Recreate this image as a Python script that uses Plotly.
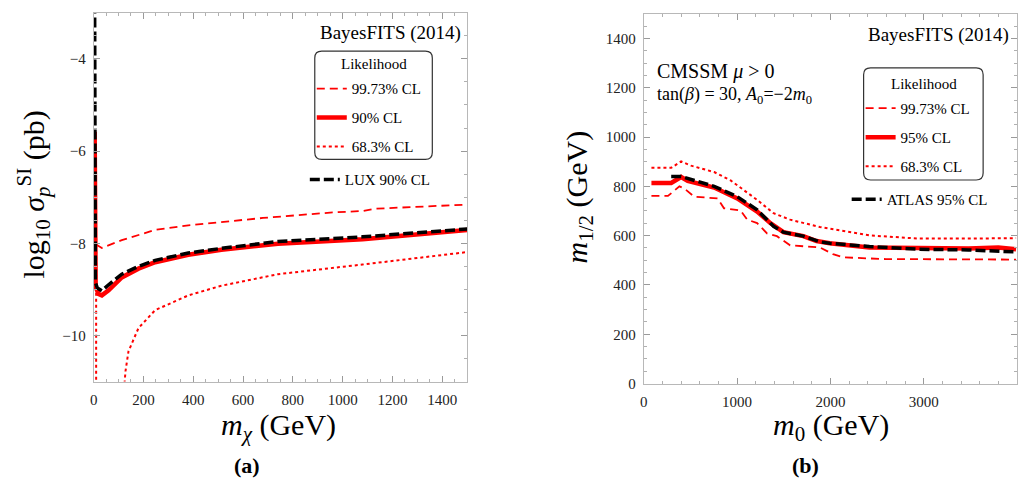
import plotly.graph_objects as go

W, H = 1018, 486
def X(px): return min(px, W - 1) / W
def Y(py): return 1 - py / H

SERIF = "Liberation Serif"
RED = "#ff0000"

# ---------------- panel (a) data ----------------
lux_m = [4, 5, 7, 15, 33, 60, 113, 180, 247, 380, 513, 740, 1080, 1500]
lux_v = [-2.8, -7.5, -8.85, -8.97, -9.03, -8.9, -8.67, -8.5, -8.37, -8.21, -8.11, -7.96, -7.86, -7.69]

a90_m = [4, 5, 8, 20, 33, 60, 113, 180, 247, 380, 513, 740, 1080, 1500]
a90_v = [-5.58, -7.5, -8.95, -9.1, -9.13, -9.02, -8.74, -8.55, -8.41, -8.25, -8.14, -8.01, -7.91, -7.71]

a9973_m = [8, 33, 113, 247, 380, 513, 680, 960, 1080, 1130, 1500]
a9973_v = [-8.02, -8.1, -7.93, -7.71, -7.61, -7.54, -7.45, -7.33, -7.30, -7.25, -7.16]

a683_m = [10, 10, None, 120, 128, 140, 180, 247, 380, 513, 740, 1080, 1500]
a683_v = [-7.9, -11.3, None, -11.3, -10.77, -10.34, -9.84, -9.45, -9.13, -8.92, -8.67, -8.46, -8.19]

# ---------------- panel (b) data ----------------
b95_m = [82, 294, 400, 471, 754, 1002, 1215, 1356, 1497, 1710, 1852, 1993, 2418, 2949, 3480, 3800, 3990]
b95_v = [814, 814, 838, 822, 795, 751, 698, 651, 614, 598, 578, 569, 552, 548, 548, 552, 545]

atlas_m = [294, 400, 754, 1002, 1215, 1391, 1497, 1710, 1887, 1993, 2418, 2949, 3480, 3990]
atlas_v = [840, 840, 800, 758, 705, 638, 614, 598, 575, 569, 556, 545, 542, 534]

b9973_m = [82, 259, 382, 435, 541, 790, 860, 1037, 1109, 1215, 1321, 1427, 1568, 1887, 2028, 2135, 2595, 3990]
b9973_v = [761, 761, 800, 791, 758, 751, 711, 702, 665, 651, 609, 598, 561, 552, 525, 512, 505, 503]

b683_m = [82, 294, 400, 506, 754, 931, 1215, 1391, 1568, 1887, 2418, 2949, 3480, 3990]
b683_v = [875, 875, 901, 884, 858, 824, 745, 691, 665, 635, 601, 588, 588, 590]

fig = go.Figure()

def line_trace(x, y, xa, ya, name, color, width, dash, legend, group):
    return go.Scatter(x=x, y=y, xaxis=xa, yaxis=ya, mode="lines", name=name,
                      line=dict(color=color, width=width, dash=dash),
                      legend=legend, legendgroup=group, connectgaps=False,
                      hoverinfo="skip")

DASH = "8px,5px"
DOT = "3px,3px"
BDASH = "10px,4px"

fig.add_trace(line_trace(a9973_m, a9973_v, "x", "y", "99.73% CL", RED, 1.8, DASH, "legend", "a1"))
fig.add_trace(line_trace(a90_m, a90_v, "x", "y", "90% CL", RED, 4.5, "solid", "legend", "a2"))
fig.add_trace(line_trace(a683_m, a683_v, "x", "y", "68.3% CL", RED, 2, DOT, "legend", "a3"))
fig.add_trace(line_trace(lux_m, lux_v, "x", "y", "LUX 90% CL", "black", 3.5, BDASH, "legend2", "a4"))

fig.add_trace(line_trace(b9973_m, b9973_v, "x2", "y2", "99.73% CL", RED, 1.8, DASH, "legend3", "b1"))
fig.add_trace(line_trace(b95_m, b95_v, "x2", "y2", "95% CL", RED, 4.5, "solid", "legend3", "b2"))
fig.add_trace(line_trace(b683_m, b683_v, "x2", "y2", "68.3% CL", RED, 2, DOT, "legend3", "b3"))
fig.add_trace(line_trace(atlas_m, atlas_v, "x2", "y2", "ATLAS 95% CL", "black", 3.5, BDASH, "legend4", "b4"))

axis_common = dict(showgrid=False, zeroline=False, showline=True, linecolor="#b8b8b8",
                   linewidth=1, mirror="ticks", ticks="inside", ticklen=6,
                   tickcolor="#9a9a9a", tickwidth=1,
                   tickfont=dict(family=SERIF, size=15, color="#222"),
                   ticklabelstandoff=4)

def minor(d):
    return dict(dtick=d, ticks="inside", ticklen=3, tickcolor="#b0b0b0", showgrid=False)

fig.update_layout(
    width=W, height=H, autosize=False, margin=dict(l=0, r=0, t=0, b=0),
    paper_bgcolor="white", plot_bgcolor="white",
    xaxis=dict(domain=[X(90), X(465)], range=[0, 1500], dtick=200, tick0=0,
               minor=minor(50), anchor="y", **axis_common),
    yaxis=dict(domain=[Y(388), Y(13)], range=[-11, -3], dtick=2, tick0=0,
               minor=minor(0.5), anchor="x", **axis_common),
    xaxis2=dict(domain=[X(642.3), X(1019)], range=[0, 4000], dtick=1000, tick0=0,
                minor=minor(200), anchor="y2", **axis_common),
    yaxis2=dict(domain=[Y(390), Y(14)], range=[0, 1500], dtick=200, tick0=0,
                minor=minor(50), anchor="x2", **axis_common),
    showlegend=True,
)

leg_font = dict(family=SERIF, size=15, color="black")
def legend_box(xpx, ypx):
    return dict(x=X(xpx), y=Y(ypx), xanchor="left", yanchor="top",
                bgcolor="rgba(0,0,0,0)", borderwidth=0, font=leg_font,
                traceorder="grouped", tracegroupgap=6.5, itemwidth=30)

fig.update_layout(
    legend=legend_box(309, 73.5),
    legend2=legend_box(302, 166),
    legend3=legend_box(860, 93.5),
    legend4=legend_box(846, 186),
)

# rounded frames of the likelihood legends
def rounded(x0, y0, x1, y1, r=7):
    pts = [
        f"M{X(x0 + r)},{Y(y0)}", f"L{X(x1 - r)},{Y(y0)}", f"Q{X(x1)},{Y(y0)} {X(x1)},{Y(y0 + r)}",
        f"L{X(x1)},{Y(y1 - r)}", f"Q{X(x1)},{Y(y1)} {X(x1 - r)},{Y(y1)}",
        f"L{X(x0 + r)},{Y(y1)}", f"Q{X(x0)},{Y(y1)} {X(x0)},{Y(y1 - r)}",
        f"L{X(x0)},{Y(y0 + r)}", f"Q{X(x0)},{Y(y0)} {X(x0 + r)},{Y(y0)}", "Z"]
    return dict(type="path", xref="paper", yref="paper", path=" ".join(pts),
                line=dict(color="#333", width=1.2), fillcolor="rgba(0,0,0,0)", layer="above")

fig.update_layout(shapes=[rounded(312, 52, 430, 162), rounded(863, 69, 983, 183)])

def ann(text, xpx, ypx, size, xanchor="center", angle=0, bold=False):
    if bold:
        text = f"<b>{text}</b>"
    return dict(text=text, x=X(xpx), y=Y(ypx), xref="paper", yref="paper",
                xanchor=xanchor, yanchor="middle", showarrow=False, textangle=angle,
                font=dict(family=SERIF, size=size, color="black"))

annotations = [
    ann("BayesFITS (2014)", 461, 34, 19, xanchor="right"),
    ann("BayesFITS (2014)", 1011, 36, 19, xanchor="right"),
    ann("Likelihood", 371, 65, 15),
    ann("Likelihood", 924, 85, 15),
    ann("CMSSM <i>μ</i> > 0", 654, 73, 20, xanchor="left"),
    ann("tan(<i>β</i>) = 30, <i>A</i><sub>0</sub>=−2<i>m</i><sub>0</sub>", 654, 97, 18, xanchor="left"),
    ann("log<sub>10</sub> <i>σ</i><sub><i>p</i></sub><sup>SI</sup> (pb)", 30, 198, 30, angle=-90),
    ann("<i>m</i><sub><i>χ</i></sub> (GeV)", 276, 434, 30),
    ann("(a)", 244, 473, 22, bold=True),
    ann("<i>m</i><sub>1/2</sub> (GeV)", 577, 200, 30, angle=-90),
    ann("<i>m</i><sub>0</sub> (GeV)", 830, 434, 30),
    ann("(b)", 805, 473, 22, bold=True),
]
fig.update_layout(annotations=annotations)

fig.write_html("out.html", config={"responsive": False})
